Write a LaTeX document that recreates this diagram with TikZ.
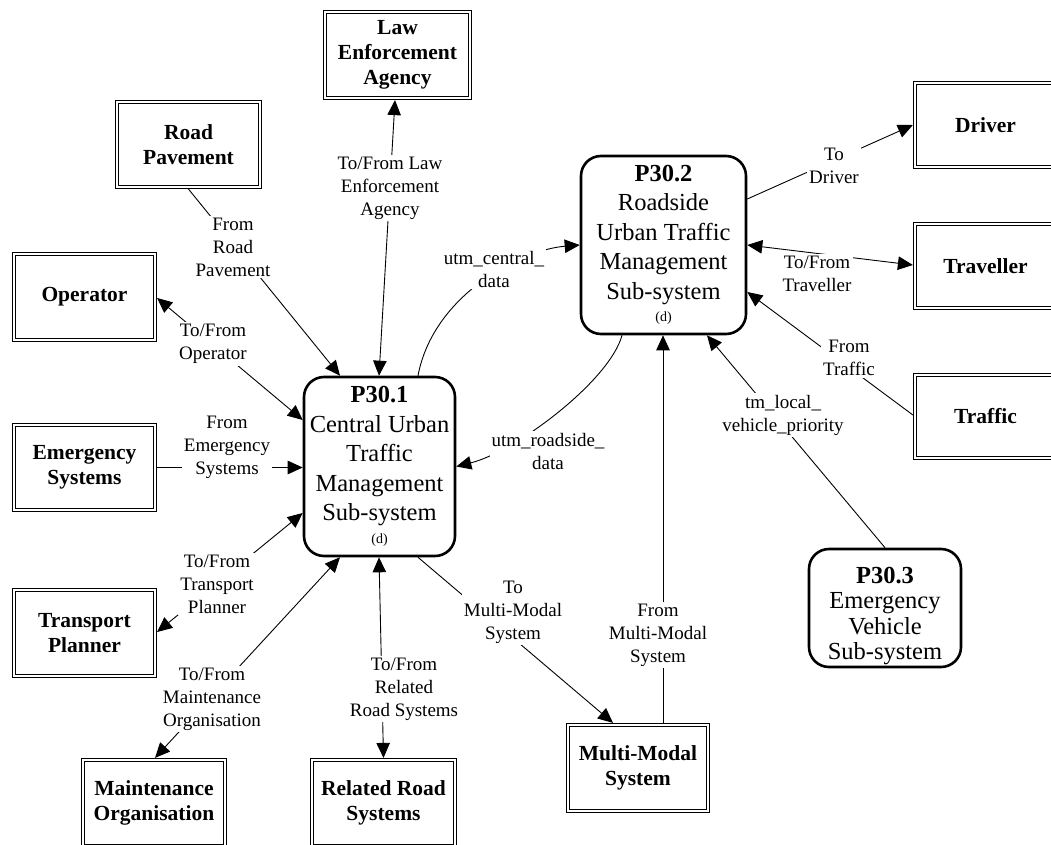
\documentclass[tikz,border=0pt]{standalone}
\usepackage{fontspec}
\setmainfont{Liberation Serif}
\usetikzlibrary{arrows.meta}
\newcommand\myext{\fontsize{21.5}{25}\selectfont\bfseries}
\newcommand\mylbl{\fontsize{19}{23}\selectfont}
\newcommand\myproc{\fontsize{24.5}{29.5}\selectfont}
\newcommand\mysmall{\fontsize{14}{16}\selectfont}
\begin{document}
\begin{tikzpicture}[x=1pt,y=-1pt,
  ext/.style={draw=black, line width=1.2pt, outer sep=0.6pt,
    align=center, font=\myext, inner sep=1pt},
  extin/.style={draw=black, line width=0.8pt},
  proc/.style={draw=black, line width=2.6pt, rounded corners=20pt, align=center, font=\myproc, inner sep=1pt},
  tipA/.tip={Triangle[length=15pt,width=13.5pt]},
  arr/.style={line width=0.9pt, -tipA},
  darr/.style={line width=0.9pt, tipA-tipA},
  lbl/.style={fill=white, align=center, font=\mylbl, inner sep=2pt}]
\useasboundingbox (0,0) rectangle (1051,845);

% external entities
\node[ext, minimum width=148pt, minimum height=89pt] (law) at (397.5,55) {Law\\Enforcement\\Agency};
\node[ext, minimum width=146pt, minimum height=88pt] (road) at (188.5,144.5) {Road\\Pavement};
\node[ext, minimum width=144pt, minimum height=89pt] (oper) at (84.5,297) {Operator};
\node[ext, minimum width=144pt, minimum height=88pt] (emer) at (84.5,467.5) {Emergency\\Systems};
\node[ext, minimum width=144pt, minimum height=89pt] (trans) at (84.5,633) {Transport\\Planner};
\node[ext, minimum width=145pt, minimum height=89pt] (maint) at (154,803) {Maintenance\\Organisation};
\node[ext, minimum width=146pt, minimum height=89pt] (rrs) at (383.5,803) {Related Road\\Systems};
\node[ext, minimum width=143pt, minimum height=89pt] (mm) at (638,768) {Multi-Modal\\System};
\node[ext, minimum width=144pt, minimum height=87pt] (driver) at (985.5,125) {Driver};
\node[ext, minimum width=144pt, minimum height=87pt] (trav) at (985.5,266) {Traveller};
\node[ext, minimum width=144pt, minimum height=86pt] (traffic) at (985.5,416.5) {Traffic};
\foreach \n in {law,road,oper,emer,trans,maint,rrs,mm,driver,trav,traffic}
  \draw[extin] ([xshift=3.8pt,yshift=-3.8pt]\n.north west) rectangle ([xshift=-3.8pt,yshift=3.8pt]\n.south east);

% processes
\node[proc, minimum width=151pt, minimum height=179pt] (p1) at (379.5,466.5)
  {\textbf{P30.1}\\Central Urban\\Traffic\\Management\\Sub-system\\[-7pt]{\mysmall (d)}};
\node[proc, minimum width=165pt, minimum height=178pt] (p2) at (663.5,245)
  {\textbf{P30.2}\\Roadside\\Urban Traffic\\Management\\Sub-system\\[-7pt]{\mysmall (d)}};
\node[proc, minimum width=152pt, minimum height=118pt] (p3) at (885,608)
  {\rule{0pt}{32pt}\textbf{P30.3}\\[-4pt]Emergency\\[-4pt]Vehicle\\[-4pt]Sub-system};

% connectors
\draw[arr] (road.south) -- ([xshift=-39.5pt]p1.north);
\draw[darr] ([xshift=-0.5pt]p1.north) -- ([xshift=-2.5pt]law.south);
\draw[darr] ([yshift=46.5pt]p1.west) -- ([yshift=-1pt]oper.east);
\draw[arr] (emer.east) -- (emer.east -| p1.west);
\draw[darr] ([yshift=-46.5pt]p1.west) -- ([yshift=1pt]trans.east);
\draw[darr] ([xshift=-39.5pt]p1.south) -- ([xshift=1pt]maint.north);
\draw[darr] ([xshift=-0.5pt]p1.south) -- (rrs.north);
\draw[arr] ([xshift=38.5pt]p1.south) -- ([xshift=-25pt]mm.north);
\draw[arr] ([xshift=25pt]mm.north) -- ([xshift=25pt]mm.north |- p2.south);
\draw[arr] (p3.north) -- ([xshift=43.5pt]p2.south);
\draw[arr] ([yshift=1.5pt]traffic.west) -- ([yshift=-47pt]p2.east);
\draw[darr] (p2.east) -- ([yshift=1pt]trav.west);
\draw[arr] ([yshift=46pt]p2.east) -- (driver.west);
\draw[arr] ([xshift=38.5pt]p1.north) .. controls +(15,-80) and +(-60,5) .. (p2.west);
\draw[arr] ([xshift=-41.5pt]p2.south) .. controls +(-12,45) and +(60,-15) .. (p1.east);

% labels
\node[lbl] (l1) at (233,247) {From\\Road\\Pavement};
\node[lbl] (l2) at (390,188) {To/From Law\\Enforcement\\Agency};
\node[lbl] (l3) at (213,344) {To/From\\Operator};
\node[lbl] (l4) at (227,447) {From\\Emergency\\Systems};
\node[lbl] (l5) at (217,584) {To/From\\Transport\\Planner};
\node[lbl] (l6) at (212,699) {To/From\\Maintenance\\Organisation};
\node[lbl] (l7) at (404,689) {To/From\\Related\\Road Systems};
\node[lbl] (l8) at (513,612) {To\\Multi-Modal\\System};
\node[lbl] (l9) at (658,635) {From\\Multi-Modal\\System};
\node[lbl] (l10) at (783,415) {tm\_local\_\\vehicle\_priority};
\node[lbl] (l11) at (849,358) {From\\Traffic};
\node[lbl] (l12) at (817,274) {To/From\\Traveller};
\node[lbl] (l13) at (834,166) {To\\Driver};
\node[lbl] (l14) at (494,269) {utm\_central\_\\data};
\node[lbl] (l15) at (548,451) {utm\_roadside\_\\data};
\end{tikzpicture}
\end{document}
